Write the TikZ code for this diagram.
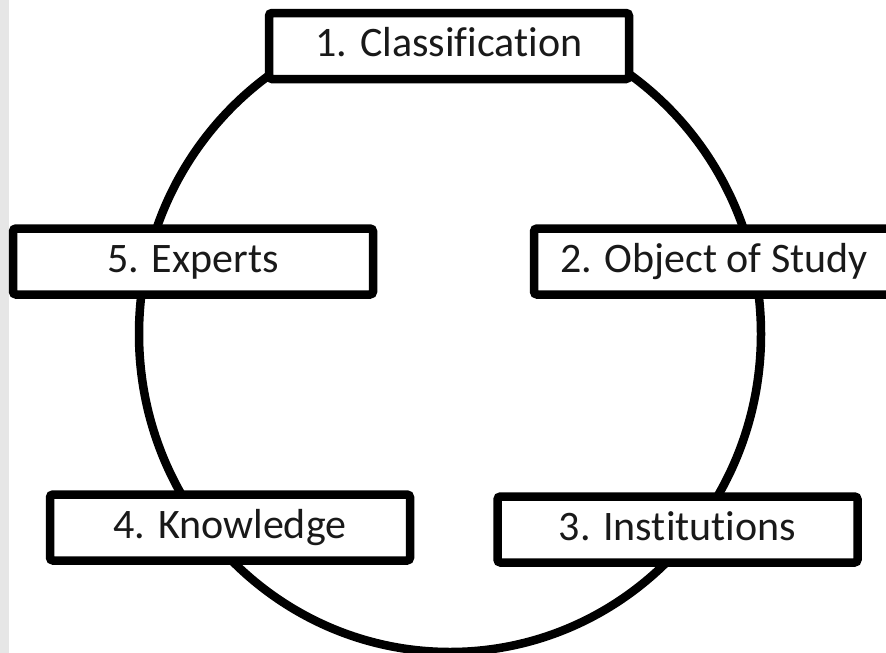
\documentclass[tikz,border=0pt]{standalone}
\usepackage{fontspec}
\setmainfont{Carlito}[RawFeature={-liga;-clig}]
\usepackage{tikz}

\definecolor{StripGray}{HTML}{E6E6E6}

\begin{document}
\begin{tikzpicture}[x=1pt, y=-1pt, line width=8.5pt, color=black,
      every node/.append style={font=\fontsize{42}{50}\selectfont, text=black!90}]
    \tikzstyle{stage} = [draw, fill=white, rounded corners=3pt, inner sep=0pt,
      minimum width=360pt, minimum height=66pt, text height=26.5pt, text depth=5pt]
    \useasboundingbox (0,0) rectangle (886,653);
    \clip (0,0) rectangle (886,653);
    \fill[StripGray] (0,0) rectangle (8.5,653);
    % the cycle
    \draw (450,334) ellipse [x radius=311pt, y radius=318pt];
    % the five stages
    \node (classification) [stage] at (449,46) {1. Classification};
    \node (object) [stage] at (714,261.5) {2. Object of Study};
    \node (institutions) [stage] at (677.5,529.5) {3. Institutions};
    \node (knowledge) [stage] at (230,527.5) {4. Knowledge};
    \node (experts) [stage] at (193,261.5) {5. Experts};
\end{tikzpicture}
\end{document}
